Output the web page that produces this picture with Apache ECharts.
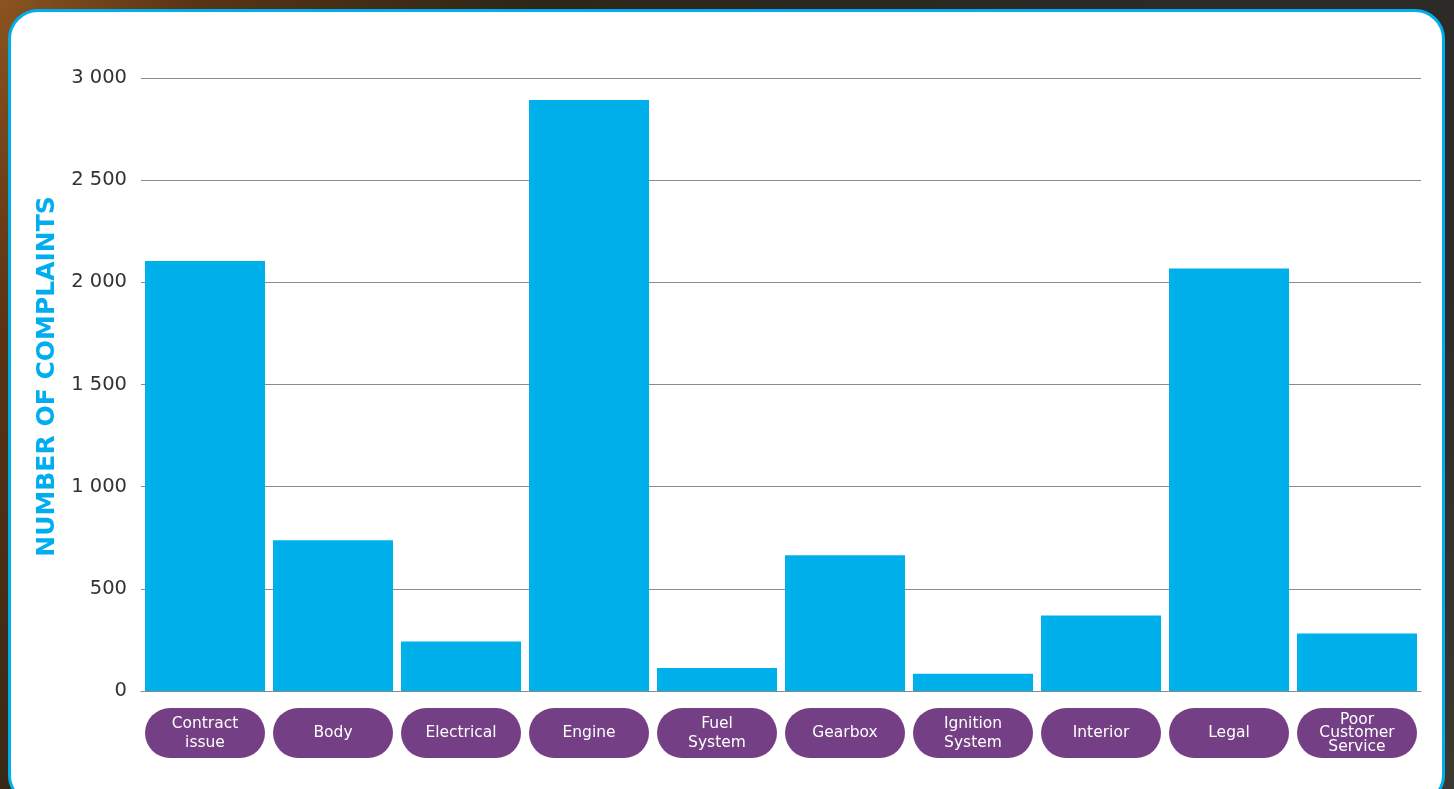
<!DOCTYPE html>
<html><head><meta charset="utf-8">
<script src="https://cdn.jsdelivr.net/npm/echarts@6/dist/echarts.min.js"></script>
<style>
html,body{margin:0;padding:0;width:1454px;height:789px;overflow:hidden;}
body{background:linear-gradient(120deg,#8a5420 0%,#5a3414 10%,#2e2618 28%,#2b2a26 60%,#2c2b28 85%,#3a3a30 100%);position:relative;}
#panel{position:absolute;left:8px;top:9px;width:1431px;height:790px;background:#fff;border:3px solid #00AEEF;border-radius:30px;}
#chart{position:absolute;left:0;top:0;width:1454px;height:789px;}
</style></head>
<body>
<div id="panel"></div>
<div id="chart"></div>
<script>
const categories = ['Contract issue','Body','Electrical','Engine','Fuel System','Gearbox','Ignition System','Interior','Legal','Poor Customer Service'];
const complaints = [2105, 738, 242, 2892, 113, 664, 84, 369, 2068, 281];
const yTicks = [0, 500, 1000, 1500, 2000, 2500, 3000];
const axisTitle = 'NUMBER OF COMPLAINTS';

const labelLines = {
  'Contract issue': ['Contract','issue'],
  'Fuel System': ['Fuel','System'],
  'Ignition System': ['Ignition','System'],
  'Poor Customer Service': ['Poor','Customer','Service']
};

function pill(v) {
  const lines = labelLines[v] || [v];
  if (lines.length === 1) return '{one|' + v + '}';
  if (lines.length === 2) return '{sp2|\u00a0}\n' + lines.map(l => '{two|' + l + '}').join('\n') + '\n{sp2|\u00a0}';
  return '{sp3|\u00a0}\n' + lines.map(l => '{three|' + l + '}').join('\n') + '\n{sp3|\u00a0}';
}

const pillFont = '"DejaVu Sans", sans-serif';
const pillSize = 15.5;
const chart = echarts.init(document.getElementById('chart'), null, {renderer:'canvas'});
chart.setOption({
  backgroundColor: 'transparent',
  animation: false,
  grid: {left: 141, right: 33, top: 78, bottom: 98, containLabel: false},
  xAxis: {
    type: 'category',
    data: categories,
    axisLine: {show: true, lineStyle: {color: '#8a8a8a', width: 1}},
    axisTick: {show: false},
    axisLabel: {
      interval: 0,
      margin: 42,
      color: '#ffffff',
      fontFamily: pillFont,
      fontSize: pillSize,
      backgroundColor: '#743F84',
      borderRadius: 25,
      width: 120,
      align: 'center',
      verticalAlign: 'middle',
      formatter: pill,
      rich: {
        one: {color: '#fff', fontSize: pillSize, fontFamily: pillFont, lineHeight: 50},
        two: {color: '#fff', fontSize: pillSize, fontFamily: pillFont, lineHeight: 19},
        sp2: {fontSize: 4, lineHeight: 6},
        three: {color: '#fff', fontSize: pillSize, fontFamily: pillFont, lineHeight: 13.5},
        sp3: {fontSize: 4, lineHeight: 4.75}
      }
    }
  },
  yAxis: {
    type: 'value',
    min: yTicks[0], max: yTicks[yTicks.length - 1], interval: yTicks[1] - yTicks[0],
    name: axisTitle,
    nameLocation: 'middle',
    nameRotate: 90,
    nameGap: 80,
    nameTextStyle: {color: '#00AEEF', fontSize: 25, fontWeight: 'bold', fontFamily: '"DejaVu Sans", sans-serif', padding: [0, 0, 0, 16]},
    axisLine: {show: false},
    axisTick: {show: false},
    splitLine: {lineStyle: {color: '#8a8a8a', width: 1}},
    axisLabel: {
      margin: 14,
      color: '#333333',
      fontSize: 19.5,
      fontFamily: '"DejaVu Sans", sans-serif',
      formatter: v => String(v).replace(/\B(?=(\d{3})+(?!\d))/g, ' ')
    }
  },
  series: [{
    type: 'bar',
    data: complaints,
    barCategoryGap: '6.25%',
    itemStyle: {color: '#00B0EB'}
  }]
});
</script>
</body></html>
